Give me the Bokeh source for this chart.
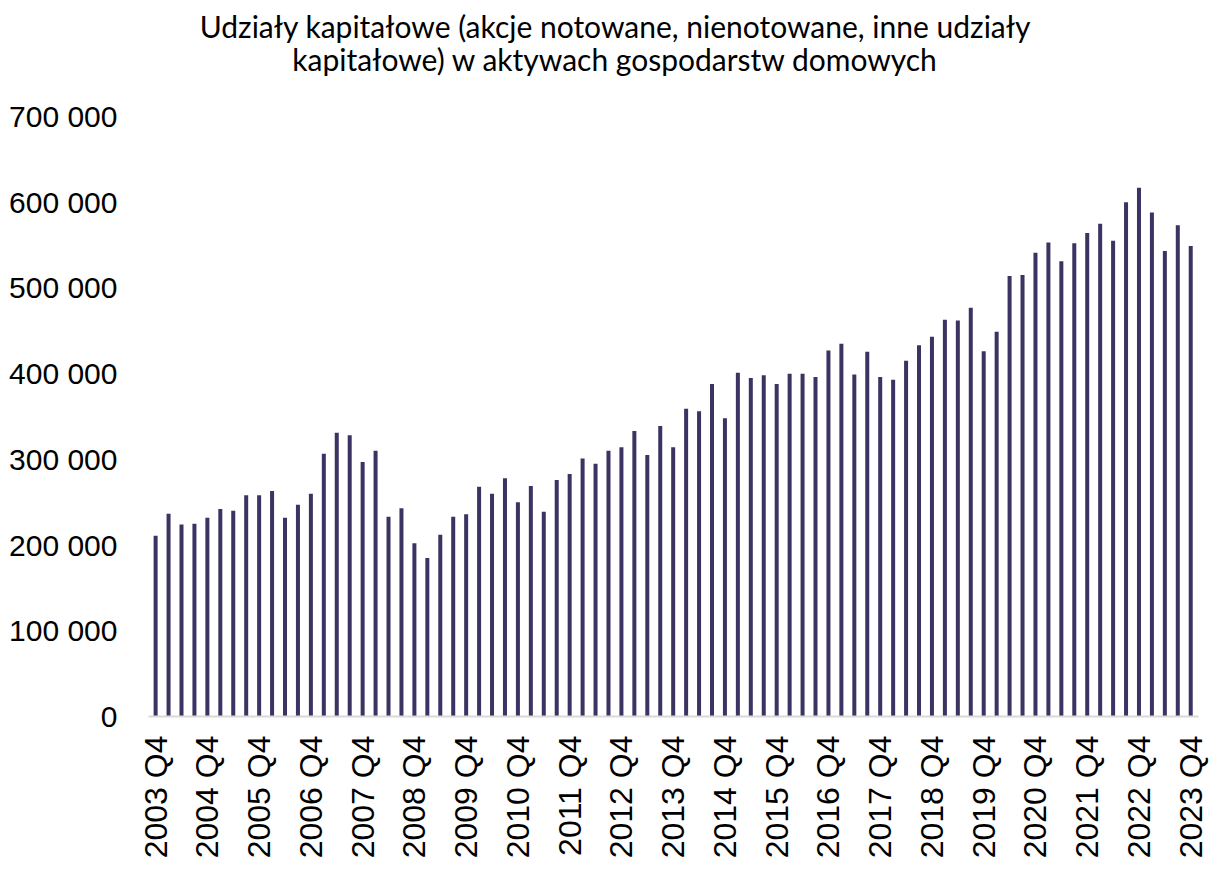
import math
from bokeh.plotting import figure
from bokeh.models import ColumnDataSource, FixedTicker, Range1d
from bokeh.core.properties import value
from bokeh.embed import file_html
from bokeh.resources import INLINE

# ---- data ----
title_lines = [
    "Udziały kapitałowe (akcje notowane, nienotowane, inne udziały",
    "kapitałowe) w aktywach gospodarstw domowych",
]

quarters = []
_y, _q = 2003, 4
for _ in range(81):
    quarters.append(f"{_y} Q{_q}")
    _q += 1
    if _q > 4:
        _q = 1
        _y += 1

values = [
    211000, 236500, 224000, 225000, 232000, 242000, 240000, 258000, 258000, 263000,
    232000, 247000, 260000, 306500, 331000, 328000, 297000, 310000, 233000, 243000,
    202000, 185000, 212000, 233000, 236000, 268000, 260000, 278000, 250000, 269000,
    239000, 276000, 283000, 301000, 295000, 310000, 314000, 333000, 305000, 339000,
    314000, 359000, 356000, 388000, 348000, 401000, 395000, 398000, 388000, 400000,
    400000, 396000, 427000, 435000, 399000, 425500, 396000, 393000, 415000, 433000,
    443000, 463000, 462000, 477000, 426000, 449000, 514000, 515000, 541000, 553000,
    531000, 552000, 564000, 575000, 555000, 600000, 617000, 588000, 543000, 573000,
    549000,
]

y_ticks = [0, 100000, 200000, 300000, 400000, 500000, 600000, 700000]
y_tick_labels = ["0", "100 000", "200 000", "300 000", "400 000", "500 000", "600 000", "700 000"]

# ---- layout (pixels) ----
W, H = 1217, 869
FRAME_LEFT, FRAME_RIGHT_BORDER, FRAME_BOTTOM_BORDER = 148, 19, 153
frame_h = H - FRAME_BOTTOM_BORDER          # frame spans whole top
px_per_unit_y = 600 / 700000               # 700 000 sits 600 px above the baseline
y_top = frame_h / px_per_unit_y            # extra headroom holds the title
x0, x1 = -0.55, 80.6
px_per_unit_x = (W - FRAME_LEFT - FRAME_RIGHT_BORDER) / (x1 - x0)

def page_to_data(px, py):
    fx = px - FRAME_LEFT
    return x0 + fx / px_per_unit_x, (frame_h - py) / px_per_unit_y

# ---- plot ----
src = ColumnDataSource(dict(x=list(range(len(values))), v=values, q=quarters))

p = figure(
    width=W, height=H,
    output_backend="svg", toolbar_location=None, title=None,
    x_range=Range1d(x0, x1), y_range=Range1d(0, y_top),
    min_border_left=FRAME_LEFT, min_border_right=FRAME_RIGHT_BORDER,
    min_border_top=0, min_border_bottom=FRAME_BOTTOM_BORDER,
)
p.outline_line_color = None
p.background_fill_color = "white"
p.border_fill_color = "white"
p.xgrid.visible = False
p.ygrid.visible = False

p.vbar(x="x", top="v", width=0.31, source=src, fill_color="#3c3363", line_color=None)

# title: two centred lines
tx1, ty1 = page_to_data(615, 25)
tx2, ty2 = page_to_data(615, 58)
title_src = ColumnDataSource(dict(x=[tx1, tx2], y=[ty1, ty2], t=title_lines))
p.text(x="x", y="y", text="t", source=title_src, text_align="center",
       text_baseline="alphabetic", text_font=value("Lato"), text_font_size="30px",
       text_color="#000000")

# y axis
ya = p.yaxis[0]
ya.ticker = FixedTicker(ticks=y_ticks)
ya.major_label_overrides = {t: l for t, l in zip(y_ticks, y_tick_labels)}
ya.axis_line_color = None
ya.major_tick_line_color = None
ya.minor_tick_line_color = None
ya.major_label_standoff = 25
ya.major_label_text_font = "Liberation Sans"
ya.major_label_text_font_size = "30px"
ya.major_label_text_color = "#000000"

# x axis
xa = p.xaxis[0]
x_ticks = list(range(0, len(values), 4))
xa.ticker = FixedTicker(ticks=x_ticks)
xa.major_label_overrides = {i: quarters[i] for i in x_ticks}
xa.axis_line_color = "#d9d9d9"
xa.axis_line_width = 2
xa.major_tick_line_color = None
xa.minor_tick_line_color = None
xa.major_label_orientation = math.pi / 2
xa.major_label_standoff = 13
xa.major_label_text_font = "Liberation Sans"
xa.major_label_text_font_size = "32px"
xa.major_label_text_color = "#000000"

open("out.html", "w").write(file_html(p, INLINE))
